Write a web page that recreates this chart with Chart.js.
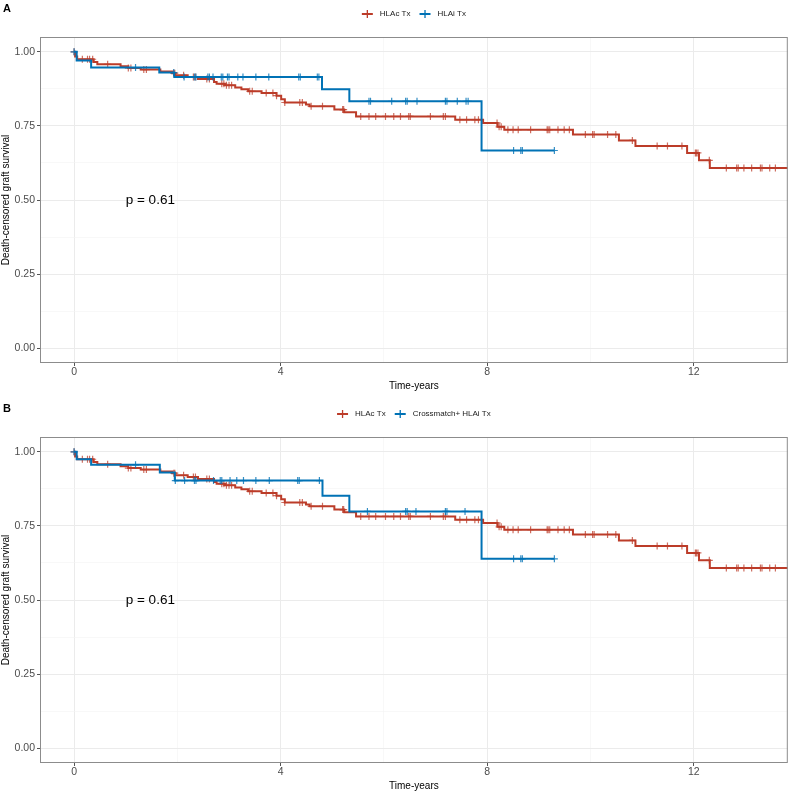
<!DOCTYPE html>
<html>
<head>
<meta charset="utf-8">
<script src="https://cdn.jsdelivr.net/npm/chart.js@4.4.0/dist/chart.umd.min.js"></script>
<style>
  html, body { margin: 0; padding: 0; background: #fff; overflow: hidden; }
  .panel { position: absolute; left: 0; width: 793px; height: 395px; }
</style>
</head>
<body>
<div class="panel" style="top:0"><canvas id="chartA"></canvas></div>
<div class="panel" style="top:400px"><canvas id="chartB"></canvas></div>
<script>
// HLAc Tx (same group in both panels)
const redTime = [0, 0.02, 0.06, 0.38, 0.45, 0.90, 1.05, 1.29, 1.67, 1.90, 1.96, 2.20, 2.40, 2.71, 2.76, 2.92, 3.12, 3.24, 3.37, 3.63, 3.92, 4.01, 4.08, 4.49, 4.56, 5.04, 5.23, 5.46, 7.38, 7.92, 8.20, 8.33, 9.66, 10.55, 10.87, 11.87, 12.10, 12.31, 13.82];
const redSurv = [1.000, 0.984, 0.975, 0.966, 0.958, 0.951, 0.945, 0.940, 0.934, 0.928, 0.921, 0.915, 0.908, 0.898, 0.892, 0.887, 0.880, 0.874, 0.867, 0.861, 0.852, 0.840, 0.829, 0.822, 0.816, 0.805, 0.796, 0.782, 0.771, 0.760, 0.747, 0.737, 0.721, 0.701, 0.682, 0.659, 0.634, 0.608, 0.608];
const redCensor = [0, 0.16, 0.26, 0.30, 0.36, 0.65, 1.05, 1.10, 1.35, 1.40, 1.93, 1.95, 2.12, 2.31, 2.35, 2.57, 2.62, 2.86, 2.90, 2.95, 3.00, 3.05, 3.40, 3.45, 3.72, 3.85, 3.92, 4.08, 4.37, 4.42, 4.59, 4.81, 5.20, 5.22, 5.55, 5.71, 5.84, 6.03, 6.19, 6.32, 6.48, 6.51, 6.90, 7.15, 7.19, 7.47, 7.60, 7.76, 7.83, 8.19, 8.23, 8.27, 8.40, 8.50, 8.60, 8.84, 9.16, 9.18, 9.21, 9.37, 9.49, 9.59, 9.90, 10.04, 10.07, 10.33, 10.49, 10.81, 11.29, 11.49, 11.77, 12.03, 12.05, 12.08, 12.30, 12.63, 12.83, 12.86, 12.97, 13.12, 13.29, 13.32, 13.47, 13.58];

// panel A: HLAi Tx
const blueATime = [0, 0.05, 0.33, 1.65, 1.94, 4.80, 5.33, 7.89, 9.30];
const blueASurv = [1.000, 0.971, 0.947, 0.930, 0.915, 0.874, 0.833, 0.667, 0.667];
const blueACensor = [0, 1.19, 1.93, 2.13, 2.33, 2.36, 2.59, 2.62, 2.69, 2.85, 2.88, 2.97, 3.00, 3.17, 3.27, 3.52, 3.77, 4.35, 4.38, 4.71, 4.74, 5.71, 5.74, 6.15, 6.42, 6.45, 6.64, 7.19, 7.22, 7.42, 7.59, 7.63, 8.51, 8.65, 8.68, 9.30];

// panel B: Crossmatch+ HLAi Tx
const blueBTime = [0, 0.05, 0.33, 1.66, 1.95, 4.81, 5.33, 7.89, 9.30];
const blueBSurv = [1.000, 0.975, 0.956, 0.930, 0.903, 0.852, 0.799, 0.639, 0.639];
const blueBCensor = [0, 1.19, 1.96, 2.14, 2.33, 2.36, 2.70, 2.83, 2.86, 3.02, 3.15, 3.28, 3.52, 3.78, 4.33, 4.36, 4.75, 5.68, 6.42, 6.45, 6.62, 7.19, 7.22, 7.57, 8.51, 8.65, 8.68, 9.30];

const xTickValues = [0, 4, 8, 12];
const xTickLabels = ['0', '4', '8', '12'];
const xMinor = [2, 6, 10];
const yTickValues = [0, 0.25, 0.5, 0.75, 1];
const yTickLabels = ['0.00', '0.25', '0.50', '0.75', '1.00'];
const yMinor = [0.125, 0.375, 0.625, 0.875];

const pValue = 'p = 0.61';
const RED = '#BC3C29';
const BLUE = '#0072B5';
const FONT = '"Liberation Sans", Arial, sans-serif';

function pts(t, s) {
  return t.map((v, i) => ({x: v, y: s[i]}));
}
// censor marks sit on the curve: take the survival value in force at that time
function survAt(t, s, when) {
  let v = s[0];
  for (let i = 0; i < t.length; i++) if (t[i] <= when) v = s[i];
  return v;
}
function censorPts(t, s, c) {
  return c.map(v => ({x: v, y: survAt(t, s, v)}));
}

const extras = {
  id: 'extras',
  afterDatasetsDraw(chart, args, opts) {
    const {ctx, chartArea: a, scales: {x, y}} = chart;
    ctx.save();
    // panel border
    ctx.strokeStyle = '#8c8c8c';
    ctx.lineWidth = 1;
    ctx.strokeRect(a.left + 0.5, a.top + 0.5, a.width - 1, a.height - 1);
    // p value
    ctx.fillStyle = '#000';
    ctx.font = '13.5px ' + FONT;
    ctx.textAlign = 'left';
    ctx.textBaseline = 'middle';
    ctx.fillText(pValue, x.getPixelForValue(1.0), y.getPixelForValue(0.5));
    // panel tag
    ctx.font = 'bold 11px ' + FONT;
    ctx.textBaseline = 'top';
    ctx.fillText(opts.tag, 3, 3);
    // legend
    ctx.font = '8px ' + FONT;
    ctx.textBaseline = 'middle';
    const sym = 11, gap = 7, sep = 9, ly = 14;
    let total = 0;
    opts.items.forEach((it, i) => {
      total += sym + gap + ctx.measureText(it.label).width + (i ? sep : 0);
    });
    let lx = (a.left + a.right) / 2 - total / 2;
    opts.items.forEach((it, i) => {
      if (i) lx += sep;
      ctx.strokeStyle = it.color;
      ctx.lineWidth = 2;
      ctx.beginPath();
      ctx.moveTo(lx, ly); ctx.lineTo(lx + sym, ly);
      ctx.stroke();
      ctx.lineWidth = 1.3;
      ctx.beginPath();
      ctx.moveTo(lx + sym / 2, ly - 4); ctx.lineTo(lx + sym / 2, ly + 4);
      ctx.stroke();
      lx += sym + gap;
      ctx.fillStyle = '#1a1a1a';
      ctx.fillText(it.label, lx, ly);
      lx += ctx.measureText(it.label).width;
    });
    ctx.restore();
  }
};

function makeChart(id, tag, blueLabel, bTime, bSurv, bCensor) {
  const isMajorX = v => xTickValues.includes(v);
  const isMajorY = v => yTickValues.includes(v);
  return new Chart(document.getElementById(id), {
    type: 'scatter',
    data: {
      datasets: [
        {label: blueLabel, data: pts(bTime, bSurv), showLine: true, stepped: true,
         borderColor: BLUE, borderWidth: 2, pointRadius: 0, fill: false, order: 1},
        {label: blueLabel + ' censor', data: censorPts(bTime, bSurv, bCensor), showLine: false,
         pointStyle: 'cross', pointRadius: 3.5, pointBorderWidth: 1.2,
         pointBorderColor: 'rgba(0,114,181,0.8)', order: 0},
        {label: 'HLAc Tx', data: pts(redTime, redSurv), showLine: true, stepped: true,
         borderColor: RED, borderWidth: 2, pointRadius: 0, fill: false, order: 3},
        {label: 'HLAc Tx censor', data: censorPts(redTime, redSurv, redCensor), showLine: false,
         pointStyle: 'cross', pointRadius: 3.5, pointBorderWidth: 1.2,
         pointBorderColor: 'rgba(188,60,41,0.75)', order: 2}
      ]
    },
    options: {
      responsive: true,
      maintainAspectRatio: false,
      animation: false,
      events: [],
      layout: {padding: {top: 37, right: 1, bottom: 0, left: 0}},
      plugins: {
        legend: {display: false},
        tooltip: {enabled: false},
        extras: {
          tag: tag,
          items: [{label: 'HLAc Tx', color: RED}, {label: blueLabel, color: BLUE}]
        }
      },
      scales: {
        x: {
          type: 'linear', min: -0.66, max: 13.82,
          afterBuildTicks: s => { s.ticks = xTickValues.concat(xMinor).sort((a, b) => a - b).map(v => ({value: v})); },
          afterFit: s => { s.height = 32; },
          border: {display: false},
          grid: {
            color: c => isMajorX(c.tick.value) ? '#EBEBEB' : '#F4F4F4',
            lineWidth: c => isMajorX(c.tick.value) ? 1 : 0.6,
            tickColor: c => isMajorX(c.tick.value) ? '#555' : 'rgba(0,0,0,0)',
            tickLength: 3, tickWidth: 1
          },
          ticks: {
            autoSkip: false, maxRotation: 0, padding: 0,
            color: '#4D4D4D', font: {family: FONT, size: 10.5},
            callback: v => { const i = xTickValues.indexOf(v); return i < 0 ? '' : xTickLabels[i]; }
          },
          title: {display: true, text: 'Time-years', color: '#000',
                  font: {family: FONT, size: 10}, padding: {top: 0, bottom: 3}}
        },
        y: {
          type: 'linear', min: -0.05, max: 1.05,
          afterBuildTicks: s => { s.ticks = yTickValues.concat(yMinor).sort((a, b) => a - b).map(v => ({value: v})); },
          afterFit: s => { s.width = 40; },
          border: {display: false},
          grid: {
            color: c => isMajorY(c.tick.value) ? '#EBEBEB' : '#F4F4F4',
            lineWidth: c => isMajorY(c.tick.value) ? 1 : 0.6,
            tickColor: c => isMajorY(c.tick.value) ? '#555' : 'rgba(0,0,0,0)',
            tickLength: 3, tickWidth: 1
          },
          ticks: {
            autoSkip: false, padding: 2,
            color: '#4D4D4D', font: {family: FONT, size: 10.5},
            callback: v => { const i = yTickValues.indexOf(v); return i < 0 ? '' : yTickLabels[i]; }
          },
          title: {display: true, text: 'Death-censored graft survival', color: '#000',
                  font: {family: FONT, size: 10}, padding: {top: 0, bottom: 0}}
        }
      }
    },
    plugins: [extras]
  });
}

makeChart('chartA', 'A', 'HLAi Tx', blueATime, blueASurv, blueACensor);
makeChart('chartB', 'B', 'Crossmatch+ HLAi Tx', blueBTime, blueBSurv, blueBCensor);
</script>
</body>
</html>
